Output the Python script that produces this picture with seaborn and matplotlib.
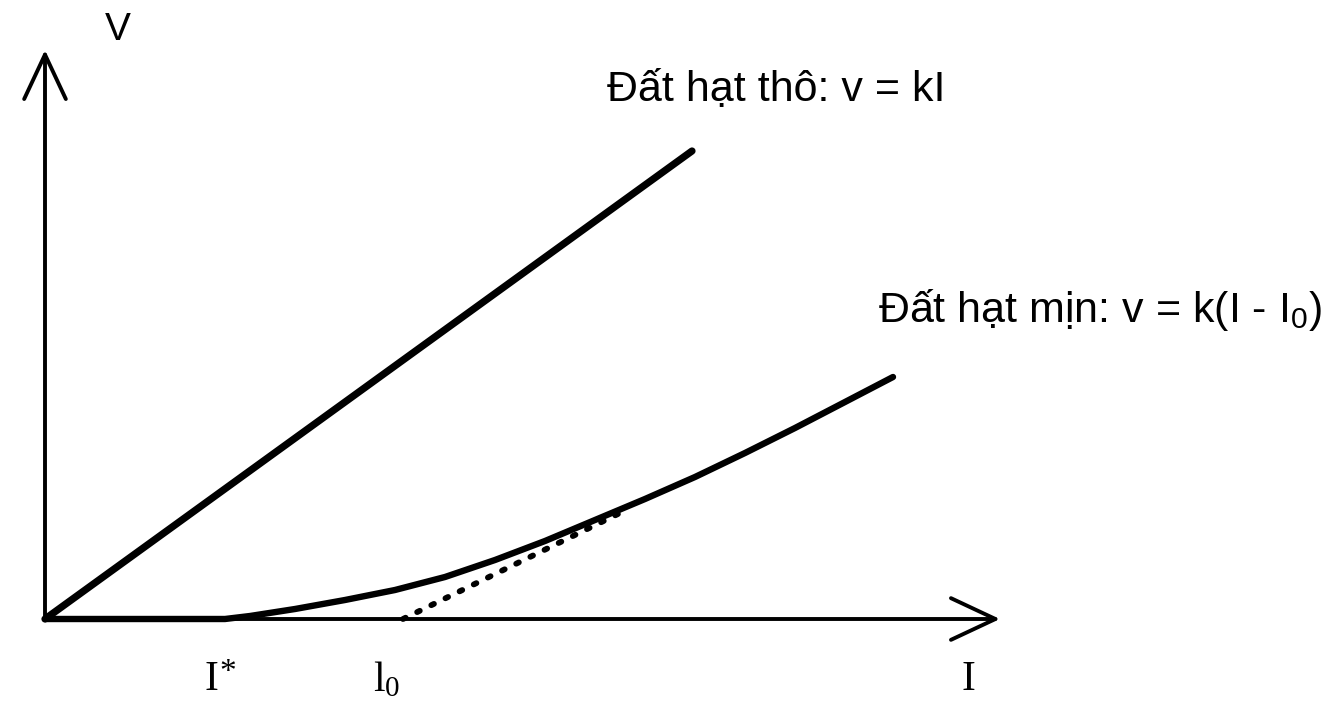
import matplotlib
matplotlib.use("Agg")
import matplotlib.pyplot as plt
import seaborn as sns
import pandas as pd

sns.set_theme(style="white")
plt.rcParams["font.family"] = ["Liberation Sans", "DejaVu Sans"]
plt.rcParams["text.color"] = "black"

# Coarse-grained soil: straight line through the origin, v = kI
coarse_I = [0.0, 6.47]
coarse_v = [0.0, 4.68]

# Fine-grained soil: no flow below I*, then a curve approaching v = k(I - I0)
fine_I = [0.0, 1.0, 1.8, 2.05, 2.5, 3.0, 3.5, 4.0, 4.5, 5.0, 5.5, 6.0, 6.5,
          7.0, 7.5, 8.0, 8.48]
fine_v = [0.0, 0.0, 0.0, 0.03, 0.10, 0.19, 0.29, 0.42, 0.59, 0.78, 0.99, 1.20,
          1.42, 1.66, 1.91, 2.17, 2.42]

# Extrapolated linear part meeting the I axis at I0
tangent_I = [3.58, 5.75]
tangent_v = [0.0, 1.06]

# Axis extents and tick-like labels
axis_I_max = 9.55
axis_v_max = 5.69
tick_pos = [1.66, 3.42, 9.23]
tick_text = ["I", r"$\mathregular{l_0}$", "I"]
tick_marks = ["*", "", ""]

coarse = pd.DataFrame({"I": coarse_I, "v": coarse_v})
fine = pd.DataFrame({"I": fine_I, "v": fine_v})
tangent = pd.DataFrame({"I": tangent_I, "v": tangent_v})

fig = plt.figure(figsize=(13.44, 7.05), dpi=100)
ax = fig.add_axes([0, 0, 1, 1])
ax.set_xlim(-0.45, 12.99)
ax.set_ylim(-0.86, 6.19)
ax.axis("off")

sns.lineplot(data=coarse, x="I", y="v", ax=ax, color="black", lw=5.2,
             solid_capstyle="round", sort=False)
sns.lineplot(data=fine, x="I", y="v", ax=ax, color="black", lw=4.6,
             solid_capstyle="round", solid_joinstyle="round", sort=False)
ln = sns.lineplot(data=tangent, x="I", y="v", ax=ax, color="black", lw=4.2,
                  sort=False)
ln.lines[-1].set_linestyle((0, (0.5, 2.2)))
ln.lines[-1].set_dash_capstyle("round")

# Axes with open arrowheads
arrow = dict(arrowstyle="->,head_length=1.6,head_width=0.75", lw=2.8,
             color="black", mutation_scale=20, shrinkA=0, shrinkB=0)
ax.annotate("", xy=(axis_I_max, 0), xytext=(0, 0), arrowprops=arrow)
ax.annotate("", xy=(0, axis_v_max), xytext=(0, 0), arrowprops=arrow)

ax.text(0.73, 5.89, "V", fontsize=28, ha="center", va="center", color="black")
ax.text(5.62, 5.18, "Đất hạt thô: v = kI", fontsize=31, ha="left",
        va="baseline", color="black")
ax.text(8.33, 2.97, r"Đất hạt mịn: v = k(I - $\mathregular{I_0}$)", fontsize=31,
        ha="left", va="baseline", color="black")

serif = ["Liberation Serif", "DejaVu Serif"]
for x, t, m in zip(tick_pos, tick_text, tick_marks):
    ax.text(x, -0.61, t, fontsize=30, ha="center", va="center", color="black",
            family=serif)
    if m:
        ax.annotate(m, xy=(x, -0.61), xytext=(6, 5), textcoords="offset points",
                    fontsize=24, ha="left", va="center", color="black",
                    family=serif)

fig.savefig("out.png", dpi=100, facecolor="white")
